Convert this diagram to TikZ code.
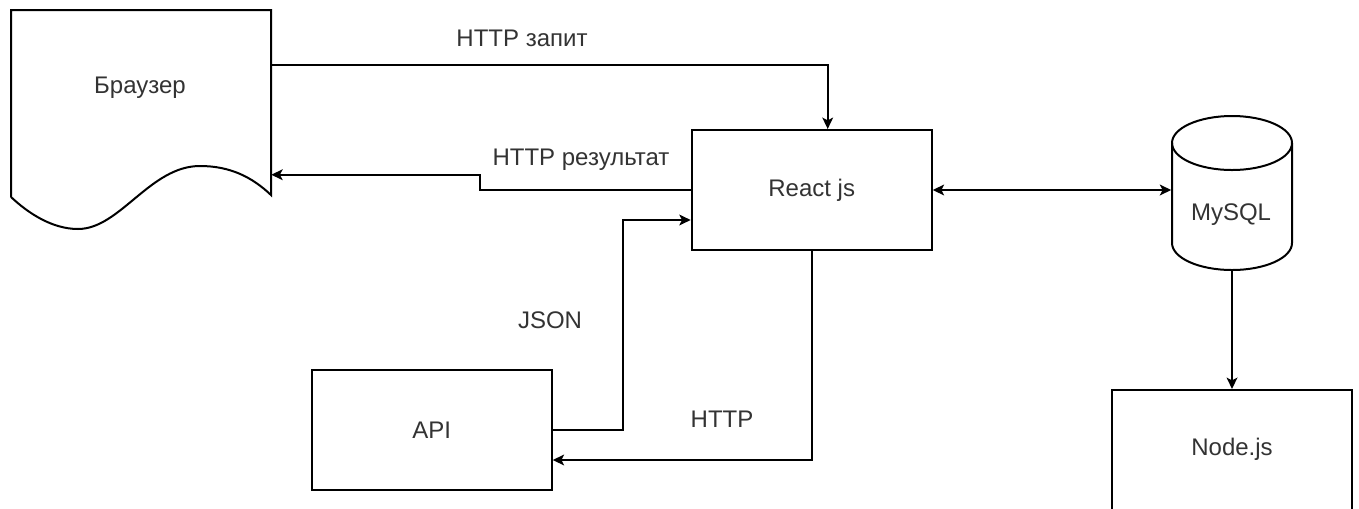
\documentclass[tikz,border=0pt]{standalone}
\usepackage{fontspec}
\setmainfont{Liberation Sans}
\usetikzlibrary{arrows.meta,calc}
\definecolor{txt}{RGB}{51,51,51}
\tikzset{
  box/.style={draw=black, line width=1.5pt, minimum width=180pt, minimum height=90pt, inner sep=0pt, font=\fontsize{18pt}{21pt}\selectfont, text=txt},
  ghost/.style={draw=none, inner sep=0pt},
  lbl/.style={font=\fontsize{18pt}{21pt}\selectfont, text=txt, inner sep=0pt},
  shp/.style={draw=black, line width=1.5pt},
  arr/.style={draw=black, line width=1.5pt, -{Stealth[length=8.5pt,width=8pt,inset=2pt]}},
  darr/.style={draw=black, line width=1.5pt, {Stealth[length=8.5pt,width=8pt,inset=2pt]}-{Stealth[length=8.5pt,width=8pt,inset=2pt]}}
}
\begin{document}
\begin{tikzpicture}[x=0.75pt,y=-0.75pt]
\clip (0,0) rectangle (1359,508);
\fill[white] (0,0) rectangle (1359,508);
% Browser (document shape)
\node[ghost, minimum width=195pt, minimum height=140.25pt] (br) at (141,103.5) {};
\draw[shp] (11,197) -- (11,10) -- (271,10) -- (271,195)
  .. controls (252,177) and (230,166) .. (200,166)
  .. controls (150,166) and (120,229) .. (78,229)
  .. controls (52,229) and (28,213) .. (11,197);
\node[lbl] (brtext) at (140,88) {Браузер};
% React
\node[box] (react) at (811.7,190) {React js};
% API
\node[box] (api) at (431.7,430) {API};
% MySQL cylinder
\node[ghost, minimum width=90.75pt, minimum height=115.5pt] (db) at (1232,193) {};
\draw[shp, fill=white] (1172,143) -- (1172,243)
  arc[start angle=180, end angle=360, x radius=45pt, y radius=20.25pt]
  -- (1292,143);
\draw[shp] (1232,143) ellipse[x radius=45pt, y radius=20.25pt];
\node[lbl] (dbtext) at (1231,215) {MySQL};
% Node.js
\node[box] (nodejs) at (1232,450) {};
\node[lbl] (nodetext) at (1232,449) {Node.js};
% Connectors
\draw[arr] ($(br.north east)+(0,55)$) -| ($(react.north)+(16,0)$);
\draw[arr] (react.west) -- ++(-210.7,0) |- ($(br.north east)+(0,165)$);
\draw[arr] (api.east) -- ++(70,0) |- ($(react.west)+(0,30)$);
\draw[arr] (react.south) |- ($(api.east)+(0,30)$);
\draw[darr] (react.east) -- (react.east -| db.west);
\draw[arr] (db.south) -- (nodejs.north);
% Labels
\node[lbl] (l1) at (522,38) {HTTP запит};
\node[lbl] (l2) at (581,160) {HTTP результат};
\node[lbl] (l3) at (550,320) {JSON};
\node[lbl] (l4) at (722,419) {HTTP};
\end{tikzpicture}
\end{document}
